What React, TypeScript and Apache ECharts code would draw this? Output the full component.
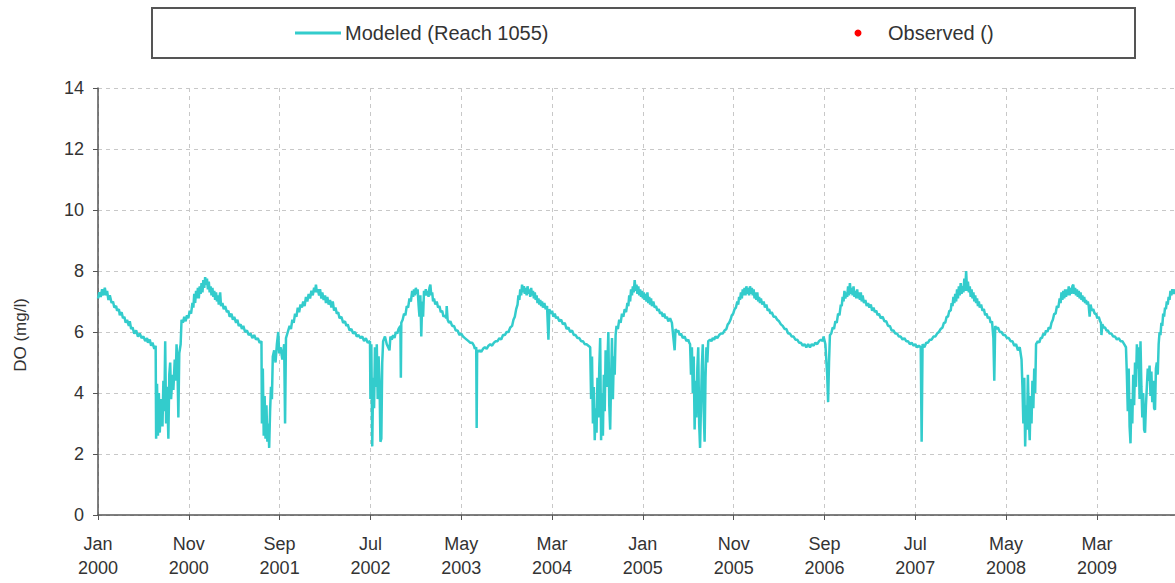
import React, { useEffect, useRef } from "react";
import * as echarts from "echarts";

// x = months since 1 Jan 2000, y = DO (mg/l)
const xTickLabels = [
  "Jan\n2000", "Nov\n2000", "Sep\n2001", "Jul\n2002", "May\n2003", "Mar\n2004",
  "Jan\n2005", "Nov\n2005", "Sep\n2006", "Jul\n2007", "May\n2008", "Mar\n2009",
];
const yTicks = [0, 2, 4, 6, 8, 10, 12, 14];

const do2000: [number, number][] = [
  [0, 7.1], [0.15, 7.3], [0.3, 7.15], [0.45, 7.4], [0.6, 7.2], [0.75, 7.45], [0.9, 7.2], [1.0, 7.35],
  [1.15, 7.05], [1.3, 7.2], [1.5, 6.95], [1.65, 7.0], [1.8, 6.8], [2.0, 6.85], [2.1, 6.7], [2.3, 6.75],
  [2.4, 6.55], [2.6, 6.65], [2.75, 6.45], [2.9, 6.5], [3.05, 6.3], [3.2, 6.4], [3.4, 6.2], [3.5, 6.35],
  [3.65, 6.1], [3.8, 6.15], [4.0, 5.95], [4.2, 6.05], [4.4, 5.85], [4.6, 5.95], [4.8, 5.8], [5.0, 5.85],
  [5.2, 5.7], [5.4, 5.8], [5.5, 5.65], [5.7, 5.75], [5.85, 5.55], [6.0, 5.65], [6.2, 5.45], [6.35, 5.55],
  [6.4, 2.5], [6.5, 4.3], [6.6, 2.6], [6.7, 4.0], [6.8, 2.7], [6.95, 3.8], [7.1, 2.9], [7.2, 4.4],
  [7.3, 3.4], [7.4, 5.7], [7.5, 3.0], [7.6, 4.2], [7.75, 2.5], [7.85, 4.6], [7.95, 5.0], [8.05, 3.8],
  [8.2, 4.6], [8.3, 4.1], [8.45, 5.1], [8.55, 4.4], [8.65, 5.6], [8.75, 4.9], [8.85, 3.2], [8.95, 5.3],
  [9.1, 5.6], [9.2, 6.4], [9.35, 6.3], [9.5, 6.5], [9.65, 6.35], [9.8, 6.55], [9.95, 6.45], [10.1, 6.7],
  [10.25, 6.6], [10.4, 6.95], [10.5, 6.8], [10.6, 7.25], [10.7, 6.95], [10.8, 7.35], [10.9, 7.1],
  [11.0, 7.45], [11.1, 7.1], [11.2, 7.5], [11.3, 7.25], [11.4, 7.6], [11.5, 7.3], [11.6, 7.7],
  [11.7, 7.45], [11.8, 7.8], [11.9, 7.55],
];
const do2001: [number, number][] = [
  [12.0, 7.75], [12.1, 7.4], [12.2, 7.65], [12.3, 7.3], [12.4, 7.5], [12.5, 7.2], [12.6, 7.45],
  [12.7, 7.15], [12.8, 7.35], [12.9, 7.05], [13.0, 7.3], [13.1, 7.0], [13.2, 7.2], [13.3, 6.9],
  [13.45, 7.3], [13.55, 6.85], [13.7, 6.95], [13.85, 6.75], [14.0, 6.85], [14.2, 6.65], [14.35, 6.7],
  [14.5, 6.5], [14.7, 6.6], [14.85, 6.4], [15.0, 6.5], [15.2, 6.3], [15.35, 6.4], [15.5, 6.2],
  [15.7, 6.25], [15.85, 6.1], [16.0, 6.2], [16.2, 6.0], [16.4, 6.05], [16.6, 5.9], [16.8, 5.95],
  [17.0, 5.8], [17.2, 5.9], [17.4, 5.75], [17.6, 5.8], [17.8, 5.65], [18.0, 5.7], [18.05, 3.0],
  [18.15, 4.8], [18.25, 2.6], [18.35, 3.9], [18.45, 2.5], [18.55, 3.6], [18.65, 2.4], [18.75, 3.0],
  [18.85, 2.2], [18.95, 3.4], [19.05, 4.2], [19.15, 3.8], [19.25, 5.2], [19.4, 5.4], [19.55, 5.0],
  [19.7, 5.6], [19.85, 6.0], [19.95, 5.3], [20.1, 5.5], [20.3, 5.1], [20.5, 5.6], [20.6, 3.0],
  [20.7, 5.8], [20.9, 6.0], [21.1, 6.2], [21.25, 6.1], [21.4, 6.4], [21.55, 6.3], [21.7, 6.6],
  [21.85, 6.5], [22.0, 6.8], [22.15, 6.65], [22.3, 6.9], [22.45, 6.8], [22.6, 7.0], [22.75, 6.85],
  [22.9, 7.15], [23.05, 7.0], [23.2, 7.25], [23.35, 7.1], [23.5, 7.35], [23.65, 7.2], [23.8, 7.45],
];
const do2002: [number, number][] = [
  [23.9, 7.3], [24.0, 7.55], [24.1, 7.3], [24.2, 7.4], [24.35, 7.2], [24.45, 7.4], [24.6, 7.1],
  [24.7, 7.3], [24.85, 7.05], [25.0, 7.2], [25.1, 6.95], [25.25, 7.15], [25.4, 6.9], [25.55, 7.05],
  [25.7, 6.8], [25.85, 7.0], [26.0, 6.7], [26.15, 6.8], [26.3, 6.6], [26.45, 6.65], [26.6, 6.45],
  [26.8, 6.5], [27.0, 6.3], [27.2, 6.35], [27.35, 6.2], [27.5, 6.25], [27.7, 6.05], [27.9, 6.1],
  [28.1, 5.95], [28.3, 6.0], [28.5, 5.85], [28.7, 5.9], [28.9, 5.8], [29.1, 5.85], [29.3, 5.7],
  [29.5, 5.8], [29.7, 5.65], [29.95, 5.7], [30.0, 3.8], [30.1, 5.6], [30.2, 2.25], [30.3, 4.5],
  [30.4, 3.5], [30.5, 5.5], [30.6, 4.2], [30.7, 5.6], [30.8, 3.8], [30.9, 5.2], [31.0, 4.4],
  [31.1, 2.4], [31.2, 2.5], [31.3, 5.0], [31.4, 5.7], [31.6, 5.85], [31.8, 5.6], [32.1, 5.4],
  [32.2, 5.85], [32.35, 5.75], [32.5, 5.9], [32.65, 5.8], [32.8, 6.0], [32.95, 5.95], [33.1, 6.1],
  [33.3, 6.2], [33.35, 4.5], [33.4, 6.3], [33.55, 6.4], [33.7, 6.6], [33.85, 6.55], [34.0, 6.85],
  [34.15, 6.8], [34.3, 7.1], [34.45, 7.0], [34.6, 7.35], [34.7, 7.15], [34.8, 7.4], [34.9, 7.2],
  [35.0, 7.45], [35.1, 7.25], [35.2, 7.4], [35.3, 6.9], [35.4, 6.5], [35.5, 7.2], [35.6, 5.85],
  [35.7, 7.0], [35.8, 6.5], [35.9, 7.35],
];
const do2003: [number, number][] = [
  [36.0, 7.2], [36.1, 7.4], [36.2, 7.2], [36.3, 7.35], [36.4, 7.15], [36.5, 7.45], [36.6, 7.55],
  [36.7, 7.2], [36.8, 7.3], [36.9, 7.0], [37.0, 7.1], [37.15, 6.9], [37.3, 7.0], [37.45, 6.8],
  [37.6, 6.85], [37.75, 6.65], [37.9, 6.7], [38.05, 6.5], [38.2, 6.55], [38.35, 6.45], [38.4, 6.85],
  [38.5, 6.4], [38.65, 6.3], [38.8, 6.35], [39.0, 6.2], [39.2, 6.2], [39.4, 6.05], [39.6, 6.05],
  [39.8, 5.9], [40.0, 5.95], [40.2, 5.85], [40.4, 5.8], [40.6, 5.75], [40.8, 5.7], [41.0, 5.65],
  [41.2, 5.65], [41.4, 5.55], [41.5, 5.45], [41.65, 5.5], [41.7, 2.85], [41.75, 5.4], [41.9, 5.35],
  [42.0, 5.4], [42.2, 5.35], [42.4, 5.45], [42.6, 5.5], [42.8, 5.45], [43.0, 5.55], [43.2, 5.6],
  [43.4, 5.55], [43.6, 5.65], [43.8, 5.7], [44.0, 5.7], [44.2, 5.8], [44.4, 5.75], [44.6, 5.9],
  [44.8, 5.9], [45.0, 6.0], [45.2, 6.0], [45.4, 6.15], [45.6, 6.2], [45.75, 6.4], [45.9, 6.5],
  [46.05, 6.75], [46.2, 6.9], [46.3, 7.2], [46.4, 7.05], [46.5, 7.4], [46.6, 7.2], [46.7, 7.55],
  [46.8, 7.3], [46.9, 7.5], [47.0, 7.25], [47.1, 7.45], [47.2, 7.2], [47.3, 7.5], [47.4, 7.25],
  [47.5, 7.4], [47.6, 7.15], [47.7, 7.45], [47.8, 7.2],
];
const do2004: [number, number][] = [
  [47.9, 7.35], [48.0, 7.1], [48.1, 7.3], [48.2, 7.05], [48.3, 7.2], [48.4, 6.95], [48.5, 7.1],
  [48.6, 6.9], [48.7, 7.05], [48.8, 6.85], [48.9, 7.0], [49.0, 6.8], [49.15, 6.95], [49.3, 6.75],
  [49.45, 6.85], [49.6, 5.75], [49.7, 6.75], [49.85, 6.6], [50.0, 6.7], [50.15, 6.5], [50.3, 6.6],
  [50.45, 6.45], [50.6, 6.5], [50.8, 6.35], [51.0, 6.4], [51.2, 6.25], [51.4, 6.3], [51.6, 6.1],
  [51.8, 6.15], [52.0, 6.0], [52.2, 6.05], [52.4, 5.9], [52.6, 5.9], [52.8, 5.8], [53.0, 5.8],
  [53.2, 5.7], [53.4, 5.7], [53.6, 5.6], [53.8, 5.6], [54.0, 5.55], [54.2, 5.5], [54.3, 3.8],
  [54.4, 5.2], [54.5, 3.0], [54.6, 4.2], [54.7, 2.45], [54.8, 3.5], [54.9, 2.7], [55.0, 4.5],
  [55.1, 3.2], [55.2, 4.8], [55.3, 5.8], [55.4, 2.45], [55.5, 4.0], [55.6, 2.6], [55.7, 4.6],
  [55.8, 3.4], [55.9, 5.4], [56.0, 4.2], [56.1, 5.0], [56.2, 6.0], [56.3, 3.6], [56.4, 2.8],
  [56.5, 4.4], [56.6, 5.8], [56.7, 3.8], [56.8, 5.2], [56.9, 4.6], [57.0, 5.9], [57.1, 6.2],
  [57.25, 6.1], [57.4, 6.4], [57.55, 6.3], [57.7, 6.6], [57.85, 6.5], [58.0, 6.75], [58.15, 6.65],
  [58.3, 6.95], [58.4, 6.85], [58.5, 7.2], [58.6, 7.0], [58.7, 7.4], [58.8, 7.2], [58.9, 7.5],
  [59.0, 7.3], [59.1, 7.7], [59.2, 7.35], [59.3, 7.55], [59.4, 7.25], [59.5, 7.5], [59.6, 7.2],
  [59.7, 7.4], [59.8, 7.15], [59.9, 7.35],
];
const do2005: [number, number][] = [
  [60.0, 7.1], [60.1, 7.3], [60.2, 7.05], [60.3, 7.25], [60.4, 7.0], [60.5, 7.3], [60.6, 6.95],
  [60.7, 7.15], [60.8, 6.9], [60.9, 7.1], [61.0, 6.85], [61.15, 7.0], [61.3, 6.8], [61.45, 6.85],
  [61.6, 6.7], [61.75, 6.75], [61.9, 6.6], [62.05, 6.65], [62.2, 6.5], [62.35, 6.6], [62.5, 6.45],
  [62.65, 6.5], [62.8, 6.35], [63.0, 6.45], [63.2, 6.3], [63.5, 5.4], [63.6, 6.1], [63.75, 6.0],
  [63.9, 6.05], [64.05, 5.9], [64.2, 5.95], [64.4, 5.8], [64.6, 5.85], [64.8, 5.7], [65.0, 5.75],
  [65.1, 5.65], [65.2, 5.6], [65.3, 4.6], [65.4, 5.5], [65.5, 4.0], [65.6, 5.2], [65.7, 2.8],
  [65.8, 4.4], [65.9, 3.2], [66.0, 4.8], [66.1, 5.5], [66.2, 3.0], [66.3, 2.2], [66.4, 3.6],
  [66.5, 4.9], [66.6, 5.6], [66.7, 3.4], [66.8, 2.4], [66.9, 4.5], [67.0, 5.5], [67.1, 5.0],
  [67.2, 5.7], [67.4, 5.75], [67.55, 5.7], [67.7, 5.8], [67.85, 5.75], [68.0, 5.85], [68.2, 5.8],
  [68.4, 5.9], [68.6, 5.95], [68.8, 5.95], [69.0, 6.05], [69.2, 6.1], [69.35, 6.25], [69.5, 6.3],
  [69.65, 6.4], [69.8, 6.55], [69.95, 6.6], [70.1, 6.75], [70.25, 6.8], [70.4, 7.0], [70.5, 6.9],
  [70.6, 7.15], [70.7, 7.05], [70.8, 7.3], [70.9, 7.1], [71.0, 7.4], [71.1, 7.2], [71.2, 7.45],
  [71.3, 7.2], [71.4, 7.5], [71.5, 7.25], [71.6, 7.45], [71.7, 7.2], [71.8, 7.5],
];
const do2006: [number, number][] = [
  [71.9, 7.25], [72.0, 7.45], [72.1, 7.2], [72.2, 7.4], [72.3, 7.1], [72.4, 7.3], [72.5, 7.05],
  [72.6, 7.3], [72.7, 7.0], [72.8, 7.15], [72.9, 6.95], [73.0, 7.1], [73.15, 6.9], [73.3, 7.0],
  [73.45, 6.8], [73.6, 6.9], [73.75, 6.7], [73.9, 6.75], [74.05, 6.6], [74.2, 6.65], [74.4, 6.5],
  [74.6, 6.5], [74.8, 6.4], [75.0, 6.35], [75.2, 6.25], [75.4, 6.2], [75.6, 6.1], [75.8, 6.1],
  [76.0, 5.95], [76.2, 5.95], [76.4, 5.85], [76.6, 5.85], [76.8, 5.75], [77.0, 5.75], [77.2, 5.65],
  [77.4, 5.65], [77.6, 5.55], [77.8, 5.6], [78.0, 5.5], [78.2, 5.6], [78.4, 5.5], [78.6, 5.6],
  [78.8, 5.55], [79.0, 5.65], [79.2, 5.6], [79.4, 5.7], [79.6, 5.75], [79.8, 5.7], [79.9, 5.85],
  [80.1, 5.6], [80.3, 4.6], [80.4, 3.7], [80.5, 5.0], [80.6, 5.9], [80.75, 5.95], [80.9, 6.15],
  [81.05, 6.1], [81.2, 6.35], [81.35, 6.3], [81.5, 6.6], [81.65, 6.55], [81.8, 6.9], [81.9, 6.85],
  [82.0, 7.15], [82.1, 7.0], [82.2, 7.35], [82.3, 7.1], [82.4, 7.3], [82.5, 7.15], [82.6, 7.5],
  [82.7, 7.2], [82.8, 7.6], [82.9, 7.25], [83.0, 7.45], [83.1, 7.2], [83.2, 7.5], [83.3, 7.15],
  [83.4, 7.35], [83.5, 7.1], [83.6, 7.4], [83.7, 7.1], [83.8, 7.3],
];
const do2007: [number, number][] = [
  [83.9, 7.05], [84.0, 7.3], [84.1, 7.0], [84.2, 7.2], [84.35, 6.95], [84.5, 7.05], [84.65, 6.85],
  [84.8, 6.95], [84.95, 6.8], [85.1, 6.9], [85.25, 6.7], [85.4, 6.8], [85.55, 6.65], [85.7, 6.7],
  [85.85, 6.55], [86.0, 6.6], [86.2, 6.45], [86.4, 6.5], [86.6, 6.35], [86.8, 6.35], [87.0, 6.2],
  [87.2, 6.2], [87.4, 6.05], [87.6, 6.05], [87.8, 5.95], [88.0, 5.95], [88.2, 5.85], [88.4, 5.85],
  [88.6, 5.75], [88.8, 5.8], [89.0, 5.7], [89.2, 5.7], [89.4, 5.6], [89.6, 5.65], [89.8, 5.55],
  [90.0, 5.6], [90.2, 5.5], [90.4, 5.55], [90.6, 5.5], [90.7, 2.4], [90.75, 4.0], [90.8, 5.6],
  [91.0, 5.5], [91.2, 5.65], [91.4, 5.65], [91.6, 5.75], [91.8, 5.75], [92.0, 5.85], [92.2, 5.85],
  [92.4, 5.95], [92.6, 6.0], [92.8, 6.1], [93.0, 6.15], [93.15, 6.3], [93.3, 6.3], [93.45, 6.5],
  [93.6, 6.5], [93.75, 6.7], [93.9, 6.7], [94.0, 6.95], [94.1, 6.85], [94.2, 7.15], [94.3, 6.95],
  [94.4, 7.25], [94.5, 7.0], [94.6, 7.4], [94.7, 7.1], [94.8, 7.5], [94.9, 7.2], [95.0, 7.6],
  [95.1, 7.25], [95.2, 7.5], [95.3, 7.3], [95.4, 7.75], [95.5, 7.35], [95.6, 8.0], [95.7, 7.35],
  [95.8, 7.65], [95.9, 7.3],
];
const do2008: [number, number][] = [
  [96.0, 7.5], [96.1, 7.15], [96.2, 7.4], [96.3, 7.1], [96.4, 7.3], [96.5, 7.0], [96.6, 7.2],
  [96.7, 6.95], [96.8, 7.1], [96.9, 6.85], [97.0, 7.0], [97.1, 6.8], [97.25, 6.9], [97.4, 6.7],
  [97.55, 6.75], [97.7, 6.55], [97.85, 6.6], [98.0, 6.45], [98.15, 6.5], [98.3, 6.3], [98.45, 6.35],
  [98.6, 5.8], [98.7, 4.4], [98.8, 6.2], [98.95, 6.1], [99.1, 6.15], [99.3, 6.0], [99.5, 6.0],
  [99.7, 5.9], [99.9, 5.9], [100.1, 5.8], [100.3, 5.8], [100.5, 5.7], [100.7, 5.7], [100.9, 5.55],
  [101.1, 5.6], [101.3, 5.4], [101.5, 5.5], [101.7, 5.1], [101.8, 4.2], [101.9, 3.0], [102.0, 4.5],
  [102.1, 2.25], [102.2, 3.6], [102.3, 2.8], [102.4, 4.6], [102.5, 3.2], [102.6, 2.45], [102.7, 3.9],
  [102.8, 3.0], [102.9, 4.4], [103.0, 3.5], [103.1, 4.8], [103.2, 4.0], [103.3, 5.6], [103.5, 5.7],
  [103.65, 5.65], [103.8, 5.8], [103.95, 5.8], [104.1, 5.95], [104.25, 5.9], [104.4, 6.05],
  [104.55, 6.0], [104.7, 6.15], [104.85, 6.1], [105.0, 6.3], [105.15, 6.4], [105.3, 6.6],
  [105.45, 6.6], [105.6, 6.85], [105.75, 6.8], [105.9, 7.1], [106.0, 6.95], [106.1, 7.3],
  [106.2, 7.05], [106.3, 7.35], [106.4, 7.1], [106.5, 7.4], [106.6, 7.15], [106.7, 7.4],
  [106.8, 7.2], [106.9, 7.5], [107.0, 7.2], [107.1, 7.45], [107.2, 7.25], [107.3, 7.5],
  [107.4, 7.55], [107.5, 7.25], [107.6, 7.45], [107.7, 7.2], [107.8, 7.4],
];
const do2009: [number, number][] = [
  [107.9, 7.15], [108.0, 7.35], [108.1, 7.1], [108.2, 7.3], [108.3, 7.05], [108.4, 7.2],
  [108.5, 7.0], [108.6, 7.15], [108.7, 6.95], [108.8, 7.05], [108.9, 6.9], [109.0, 7.0], [109.1, 6.85],
  [109.2, 6.5], [109.3, 6.9], [109.45, 6.7], [109.6, 6.75], [109.75, 6.6], [109.9, 6.6], [110.05, 6.45],
  [110.2, 6.5], [110.35, 6.35], [110.45, 6.3], [110.5, 5.9], [110.6, 6.25], [110.75, 6.15],
  [110.9, 6.15], [111.05, 6.05], [111.2, 6.05], [111.4, 5.95], [111.6, 5.95], [111.8, 5.85],
  [112.0, 5.85], [112.2, 5.75], [112.4, 5.8], [112.6, 5.7], [112.8, 5.7], [112.9, 5.65], [113.0, 5.6],
  [113.2, 5.5], [113.3, 4.6], [113.4, 3.4], [113.5, 4.8], [113.6, 2.9], [113.7, 2.35], [113.8, 3.8],
  [113.9, 3.0], [114.0, 4.6], [114.1, 3.6], [114.2, 5.0], [114.3, 4.2], [114.4, 5.6], [114.5, 4.8],
  [114.6, 5.5], [114.7, 3.8], [114.8, 5.7], [114.9, 4.2], [115.0, 3.2], [115.1, 4.0], [115.2, 2.8],
  [115.3, 2.7], [115.4, 3.6], [115.5, 4.2], [115.6, 4.8], [115.7, 4.4], [115.8, 4.9], [115.9, 3.9],
  [116.0, 4.7], [116.1, 3.7], [116.2, 4.4], [116.3, 3.5], [116.4, 3.45], [116.5, 4.8], [116.6, 5.0],
  [116.7, 4.6], [116.8, 5.6], [116.9, 6.0], [117.0, 5.9], [117.1, 6.3], [117.2, 6.2], [117.3, 6.6],
  [117.4, 6.5], [117.5, 6.8], [117.6, 6.75], [117.7, 7.0], [117.8, 6.9], [117.9, 7.15],
  [118.0, 7.05], [118.1, 7.35], [118.2, 7.2], [118.3, 7.4], [118.45, 7.25], [118.6, 7.4],
];
const observed: [number, number][] = [];

const modeledName = "Modeled (Reach 1055)";
const observedName = "Observed ()";
const lineColor = "#33CCCC";

export default function App() {
  const ref = useRef<HTMLDivElement>(null);
  useEffect(() => {
    if (!ref.current) return;
    const chart = echarts.init(ref.current, undefined, { renderer: "svg" });
    const modeled = [
      ...do2000, ...do2001, ...do2002, ...do2003, ...do2004,
      ...do2005, ...do2006, ...do2007, ...do2008, ...do2009,
    ];
    const font = "Liberation Sans, Arial, sans-serif";
    chart.setOption({
      animation: false,
      backgroundColor: "#ffffff",
      grid: { left: 98, top: 88, right: 0, bottom: 68, containLabel: false },
      xAxis: {
        type: "value",
        min: 0,
        max: 118.6,
        interval: 10,
        axisLine: { show: true, lineStyle: { color: "#555", width: 1.5 } },
        axisTick: { show: true, length: 5, lineStyle: { color: "#555" } },
        axisLabel: {
          color: "#333",
          fontSize: 18,
          fontFamily: font,
          margin: 17,
          lineHeight: 24,
          showMaxLabel: false,
          formatter: (v: number) => {
            const i = Math.round(v / 10);
            if (Math.abs(v - i * 10) > 0.01) return "";
            return xTickLabels[i] ?? "";
          },
        },
        splitLine: { show: true, lineStyle: { color: "#c8c8c8", type: [4, 4], width: 1 } },
      },
      yAxis: {
        type: "value",
        min: yTicks[0],
        max: yTicks[yTicks.length - 1],
        interval: 2,
        axisLine: { show: true, lineStyle: { color: "#555", width: 1.5 } },
        axisTick: { show: true, length: 5, lineStyle: { color: "#555" } },
        axisLabel: { color: "#333", fontSize: 18, fontFamily: font, margin: 14 },
        splitLine: { show: true, lineStyle: { color: "#c8c8c8", type: [4, 4], width: 1 } },
      },
      series: [
        {
          name: modeledName,
          type: "line",
          data: modeled,
          showSymbol: false,
          lineStyle: { color: lineColor, width: 2.5 },
          itemStyle: { color: lineColor },
        },
        {
          name: observedName,
          type: "scatter",
          data: observed,
          symbolSize: 7,
          itemStyle: { color: "#ff0000" },
        },
      ],
      graphic: [
        {
          type: "rect",
          shape: { x: 152, y: 8, width: 983, height: 50 },
          style: { fill: "#fff", stroke: "#555", lineWidth: 2 },
          z: 10,
        },
        {
          type: "line",
          shape: { x1: 295, y1: 33, x2: 341, y2: 33 },
          style: { stroke: lineColor, lineWidth: 3 },
          z: 11,
        },
        {
          type: "text",
          x: 345,
          y: 33,
          style: {
            text: modeledName,
            fill: "#333",
            font: `20px ${font}`,
            textVerticalAlign: "middle",
            textAlign: "left",
          },
          z: 11,
        },
        {
          type: "circle",
          shape: { cx: 858, cy: 33, r: 3.5 },
          style: { fill: "#ff0000" },
          z: 11,
        },
        {
          type: "text",
          x: 888,
          y: 33,
          style: {
            text: observedName,
            fill: "#333",
            font: `20px ${font}`,
            textVerticalAlign: "middle",
            textAlign: "left",
          },
          z: 11,
        },
        {
          type: "text",
          x: 20,
          y: 335,
          rotation: Math.PI / 2,
          style: {
            text: "DO (mg/l)",
            fill: "#333",
            font: `17px ${font}`,
            textVerticalAlign: "middle",
            textAlign: "center",
          },
          z: 11,
        },
      ],
    });
    return () => chart.dispose();
  }, []);
  return (
    <div
      ref={ref}
      style={{ position: "fixed", left: 0, top: 0, width: 1175, height: 583 }}
    />
  );
}
